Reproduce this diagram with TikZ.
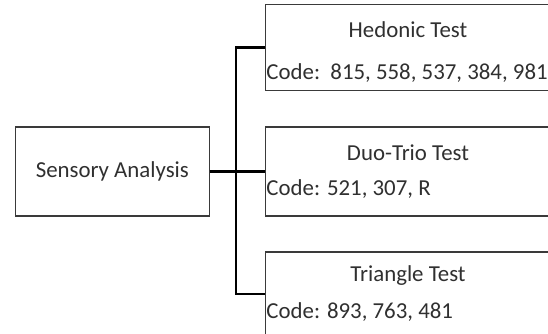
\documentclass[tikz,border=0pt]{standalone}
\usepackage{fontspec}
\setmainfont{Carlito}
\begin{document}
\begin{tikzpicture}[x=1cm,y=1cm,font=\fontsize{13}{15}\selectfont]
\definecolor{cline}{HTML}{3A3A3A}\definecolor{ctext}{HTML}{303030}
\tikzset{box/.style={draw=cline,line width=0.6pt,fill=white,minimum width=5.8cm,minimum height=1.78cm,inner sep=0pt},
 mainbox/.style={draw=cline,line width=0.6pt,fill=white,minimum width=3.87cm,minimum height=1.78cm,text=ctext},
 title/.style={text=ctext,inner sep=0pt},
 code/.style={text=ctext,anchor=west,inner sep=0pt},
 bus/.style={line width=1.2pt,black}}
\useasboundingbox (0,0) rectangle (10.96,6.68);
% boxes
\node[mainbox] (sa) at (2.247,3.25) {Sensory Analysis};
\node[box,minimum height=1.71cm] (hd) at (8.212,5.73) {};
\node[box] (dt) at (8.212,3.25) {};
\node[box,minimum height=1.68cm] (tr) at (8.212,0.80) {};
\coordinate (j) at (4.72,3.25);
% connectors
\draw[bus] (sa.east) -- (dt.west);
\draw[bus] (hd.west) -| (j) |- (tr.west);
% texts
\node[title] (hdt) at (8.16,6.08) {Hedonic Test};
\node[code] (hdc) at ([xshift=0.02cm]hd.west |- 0,5.22) {Code:\ \ 815, 558, 537, 384, 981};
\node[title] (dtt) at (8.16,3.62) {Duo-Trio Test};
\node[code] (dtc) at ([xshift=0.02cm]dt.west |- 0,2.90) {Code: 521, 307, R};
\node[title] (trt) at (8.16,1.16) {Triangle Test};
\node[code] (trc) at ([xshift=0.02cm]tr.west |- 0,0.44) {Code: 893, 763, 481};
\end{tikzpicture}
\end{document}
